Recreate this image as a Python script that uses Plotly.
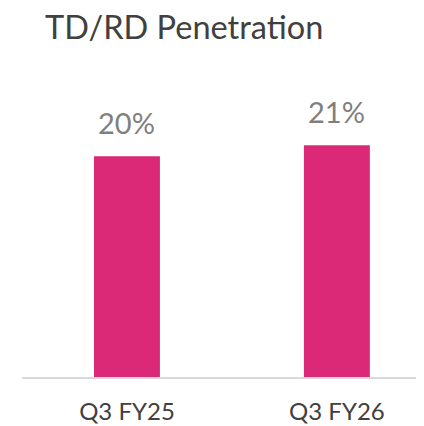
import plotly.graph_objects as go

categories = ["Q3 FY25", "Q3 FY26"]
values = [20, 21]
value_labels = ["20%", "21%"]
title_text = "TD/RD Penetration"

BAR = "#DB2877"
FONT = "Lato, 'Open Sans', sans-serif"

# page body has an 8px default margin; figure is sized/offset to compensate
W, H = 416, 418

fig = go.Figure()
fig.add_trace(go.Bar(
    x=categories, y=values, width=0.314,
    marker=dict(color=BAR, line=dict(width=0)),
    hoverinfo="skip",
))
for c, v, t in zip(categories, values, value_labels):
    fig.add_annotation(x=c, y=v, text=t, showarrow=False, yanchor="bottom",
                       yshift=14, font=dict(family=FONT, size=29, color="#7F7F7F"))

fig.update_layout(
    width=W, height=H,
    margin=dict(l=14, r=0, t=93, b=49, autoexpand=False),
    paper_bgcolor="white", plot_bgcolor="white",
    showlegend=False,
    title=dict(text=title_text, x=37 / W, xanchor="left", xref="container",
               y=1 - 20 / H, yanchor="middle", yref="container",
               font=dict(family=FONT, size=32.5, color="#404040")),
    xaxis=dict(range=[-0.5, 1.415], showline=True, linecolor="#D9D9D9", linewidth=1.5,
               tickfont=dict(family=FONT, size=24, color="#404040"),
               ticklabelstandoff=12,
               ticks="", showgrid=False, zeroline=False, fixedrange=True,
               automargin=False),
    yaxis=dict(range=[0, 25], visible=False, showgrid=False, zeroline=False, fixedrange=True),
)
fig.write_html("out.html")
